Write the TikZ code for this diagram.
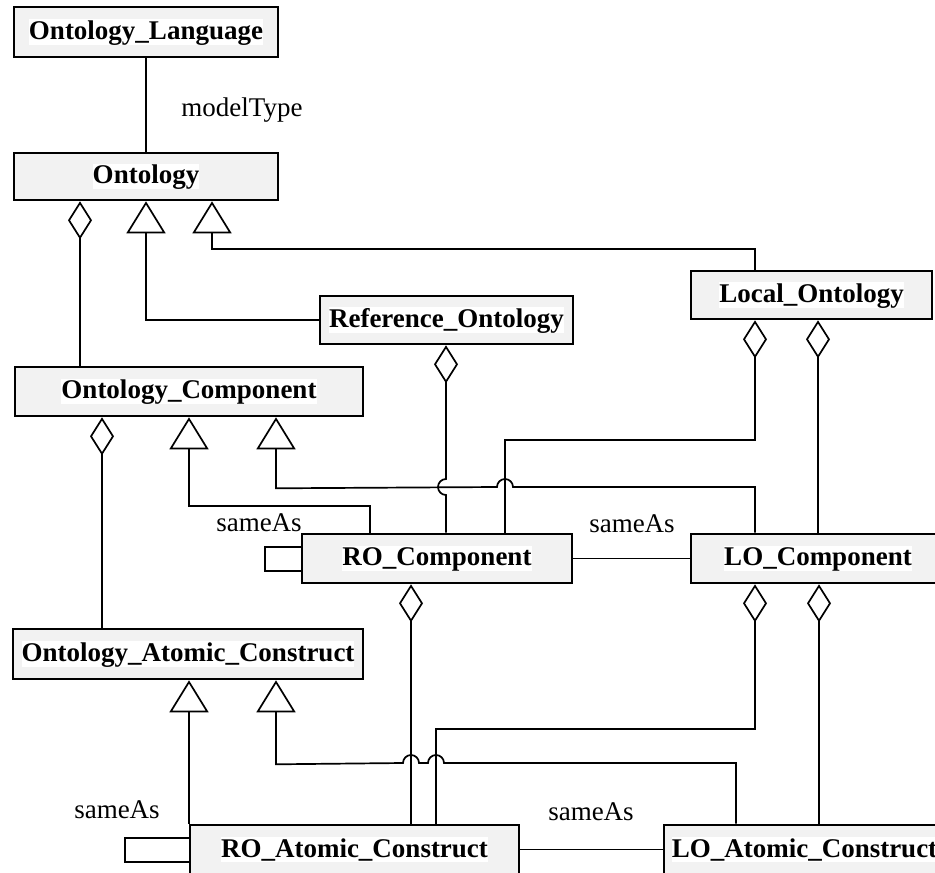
\documentclass[tikz,border=0pt]{standalone}
\usepackage{fontspec}
\setmainfont{Liberation Serif}
\usetikzlibrary{arrows.meta,calc}
\definecolor{boxgray}{HTML}{F2F2F2}
\newcommand\boxtxt[1]{{\setlength\fboxsep{0pt}\colorbox{white}{\rule[-5pt]{0pt}{25pt}#1}}}
\begin{document}
\begin{tikzpicture}[x=1pt,y=1pt,
  umlbox/.style={draw, line width=2.6pt, fill=boxgray, inner sep=0pt, font=\fontsize{27}{30}\selectfont\bfseries},
  conn/.style={line width=1.7pt},
  agg/.style={conn, {Diamond[open,length=38pt,width=24pt]}-},
  gen/.style={conn, {Triangle[open,length=32pt,width=39pt]}-},
  lbl/.style={font=\fontsize{27}{30}\selectfont, inner sep=0pt}]
\useasboundingbox (0,0) rectangle (935,-873);
\clip (0,0) rectangle (935,-873);
% column coordinates
\coordinate (cA) at (80,0);
\coordinate (cB) at (146,0);
\coordinate (cC) at (212,0);
\coordinate (cD) at (102,0);
\coordinate (cE) at (189,0);
\coordinate (cF) at (276,0);
\coordinate (cG) at (370,0);
\coordinate (cH) at (446,0);
\coordinate (cI) at (505,0);
\coordinate (cJ) at (755,0);
\coordinate (cK) at (818,0);
\coordinate (cL) at (411,0);
\coordinate (cM) at (436,0);
\coordinate (cN) at (736,0);
\coordinate (cO) at (819,0);
% boxes
\node[umlbox, minimum width=264pt, minimum height=50pt] (lang) at (146,-32) {\boxtxt{Ontology\_Language}};
\node[umlbox, minimum width=264pt, minimum height=47pt] (ont) at (146,-176.5) {\boxtxt{Ontology}};
\node[umlbox, minimum width=253pt, minimum height=48pt] (refo) at (446.5,-320) {\boxtxt{Reference\_Ontology}};
\node[umlbox, minimum width=241pt, minimum height=48pt] (loco) at (811.5,-295) {\boxtxt{Local\_Ontology}};
\node[umlbox, minimum width=348pt, minimum height=49pt] (oc) at (189,-391.5) {\boxtxt{Ontology\_Component}};
\node[umlbox, minimum width=270pt, minimum height=49pt] (roc) at (437,-558.5) {\boxtxt{RO\_Component}};
\node[umlbox, minimum width=254pt, minimum height=49pt] (loc) at (818,-558.5) {\boxtxt{LO\_Component}};
\node[umlbox, minimum width=350pt, minimum height=50pt] (oac) at (188,-654) {\boxtxt{Ontology\_Atomic\_Construct}};
\node[umlbox, minimum width=329pt, minimum height=49pt] (roac) at (354.5,-849.5) {\boxtxt{RO\_Atomic\_Construct}};
\node[umlbox, minimum width=281pt, minimum height=49pt] (loac) at (804.5,-849.5) {\boxtxt{LO\_Atomic\_Construct}};
% connectors
\draw[conn] (lang) -- (ont);
\node[lbl] (mt) at (242,-110) {modelType};
\draw[agg] (ont.south -| cA) -- (oc.north -| cA);
\draw[gen] (ont.south -| cB) |- (refo.west);
\draw[gen] (ont.south -| cC) -- ++(0,-48) -| (loco.north -| cJ);
\draw[agg] (oc.south -| cD) -- (oac.north -| cD);
\draw[gen] (oc.south -| cE) -- ++(0,-89) -| (roc.north -| cG);
\draw[gen] (oc.south -| cF) -- ++(0,-71) -- (497,-487) arc[start angle=180,end angle=0,radius=8pt] -| (loc.north -| cJ);
\draw[agg] (refo.south -| cH) -- (446,-479) arc[start angle=90,end angle=270,radius=8pt] -- (roc.north -| cH);
\draw[agg] (loco.south -| cJ) -- ++(0,-120) -| (roc.north -| cI);
\draw[agg] (loco.south -| cK) -- (loc.north -| cK);
\draw[conn] (roc.east) -- (loc.west);
\node[lbl] (sa1) at (632,-524) {sameAs};
\draw[conn] ([yshift=11.5pt]roc.west) -- ++(-36,0) -- ++(0,-24) -- ++(36,0);
\node[lbl] (sa2) at (259,-523) {sameAs};
\draw[agg] (roc.south -| cL) -- (roac.north -| cL);
\draw[gen] (oac.south -| cE) -- (roac.north -| cE);
\draw[gen] (oac.south -| cF) -- ++(0,-84) -- (403,-763) arc[start angle=180,end angle=0,radius=8pt] -- (428,-763) arc[start angle=180,end angle=0,radius=8pt] -| (loac.north -| cN);
\draw[agg] (loc.south -| cJ) -- ++(0,-145) -| (roac.north -| cM);
\draw[agg] (loc.south -| cO) -- (loac.north -| cO);
\draw[conn] (roac.east) -- (loac.west);
\node[lbl] (sa3) at (591,-812) {sameAs};
\draw[conn] ([yshift=11.5pt]roac.west) -- ++(-64,0) -- ++(0,-24) -- ++(64,0);
\node[lbl] (sa4) at (117,-810) {sameAs};
\end{tikzpicture}
\end{document}
